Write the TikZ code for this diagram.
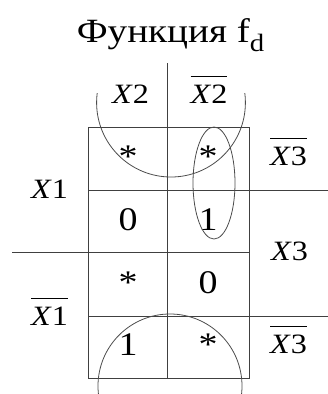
\documentclass[tikz,border=0pt]{standalone}
\usepackage{fontspec}
\setmainfont{Liberation Serif}
\newfontfamily\tms[FakeStretch=1.15]{Liberation Serif}
\newcommand{\olx}[1]{\setbox0\hbox{#1}\rlap{\rule[\dimexpr\ht0+7.5pt\relax]{\wd0}{0.9pt}}\box0}
\begin{document}
\begin{tikzpicture}[x=1pt,y=-1pt,
  gridline/.style={draw=black!75,line width=1pt},
  loop/.style={draw=black!70,line width=0.8pt},
  lbl/.style={anchor=base,inner sep=0pt,font=\tms\fontsize{28}{30}\selectfont},
  cell/.style={anchor=base,inner sep=0pt,font=\tms\fontsize{33}{36}\selectfont},
  ttl/.style={anchor=base,inner sep=0pt,font=\tms\fontsize{34}{40}\selectfont}]
\useasboundingbox (0,0) rectangle (328,394);
% coordinates
\coordinate (tl) at (88,127);
\coordinate (br) at (249,378);
\coordinate (vt) at (167,63);
\coordinate (vb) at (167,378);
\coordinate (h1a) at (88,190);
\coordinate (h1b) at (328,190);
\coordinate (h2a) at (12,252);
\coordinate (h2b) at (249,252);
\coordinate (h3a) at (88,316);
\coordinate (h3b) at (328,316);
% grid
\draw[gridline] (tl) rectangle (br);
\draw[gridline] (vt) -- (vb);
\draw[gridline] (h1a) -- (h1b);
\draw[gridline] (h2a) -- (h2b);
\draw[gridline] (h3a) -- (h3b);
% title
\node[ttl] (title) at (170.5,42) {Функция f\raisebox{-9pt}{\fontsize{25}{25}\selectfont d}};
% labels
\node[lbl] (x2) at (130.5,103) {\textit{X}2};
\node[lbl] (nx2) at (209,103) {\olx{\textit{X}2}};
\node[lbl] (x1) at (49.5,198) {\textit{X}1};
\node[lbl] (nx1) at (49.5,325) {\olx{\textit{X}1}};
\node[lbl] (nx3a) at (288.5,165) {\olx{\textit{X}3}};
\node[lbl] (x3) at (289.5,260) {\textit{X}3};
\node[lbl] (nx3b) at (288.5,353) {\olx{\textit{X}3}};
% cells
\node[cell] (c11) at (128,167) {*};
\node[cell] (c12) at (208,167) {*};
\node[cell] (c21) at (128,230) {0};
\node[cell] (c22) at (208,230) {1};
\node[cell] (c31) at (128,293) {*};
\node[cell] (c32) at (208,293) {0};
\node[cell] (c41) at (128,355) {1};
\node[cell] (c42) at (208,355) {*};
% loops
\begin{scope}
\clip (0,93) rectangle (328,394);
\draw[loop] (171,102.6) circle[radius=74.4pt];
\end{scope}
\begin{scope}
\clip (0,0) rectangle (328,394);
\draw[loop] (170,386) circle[radius=72pt];
\end{scope}
\draw[loop] (214,183) ellipse[x radius=21pt,y radius=56pt];
\end{tikzpicture}
\end{document}
